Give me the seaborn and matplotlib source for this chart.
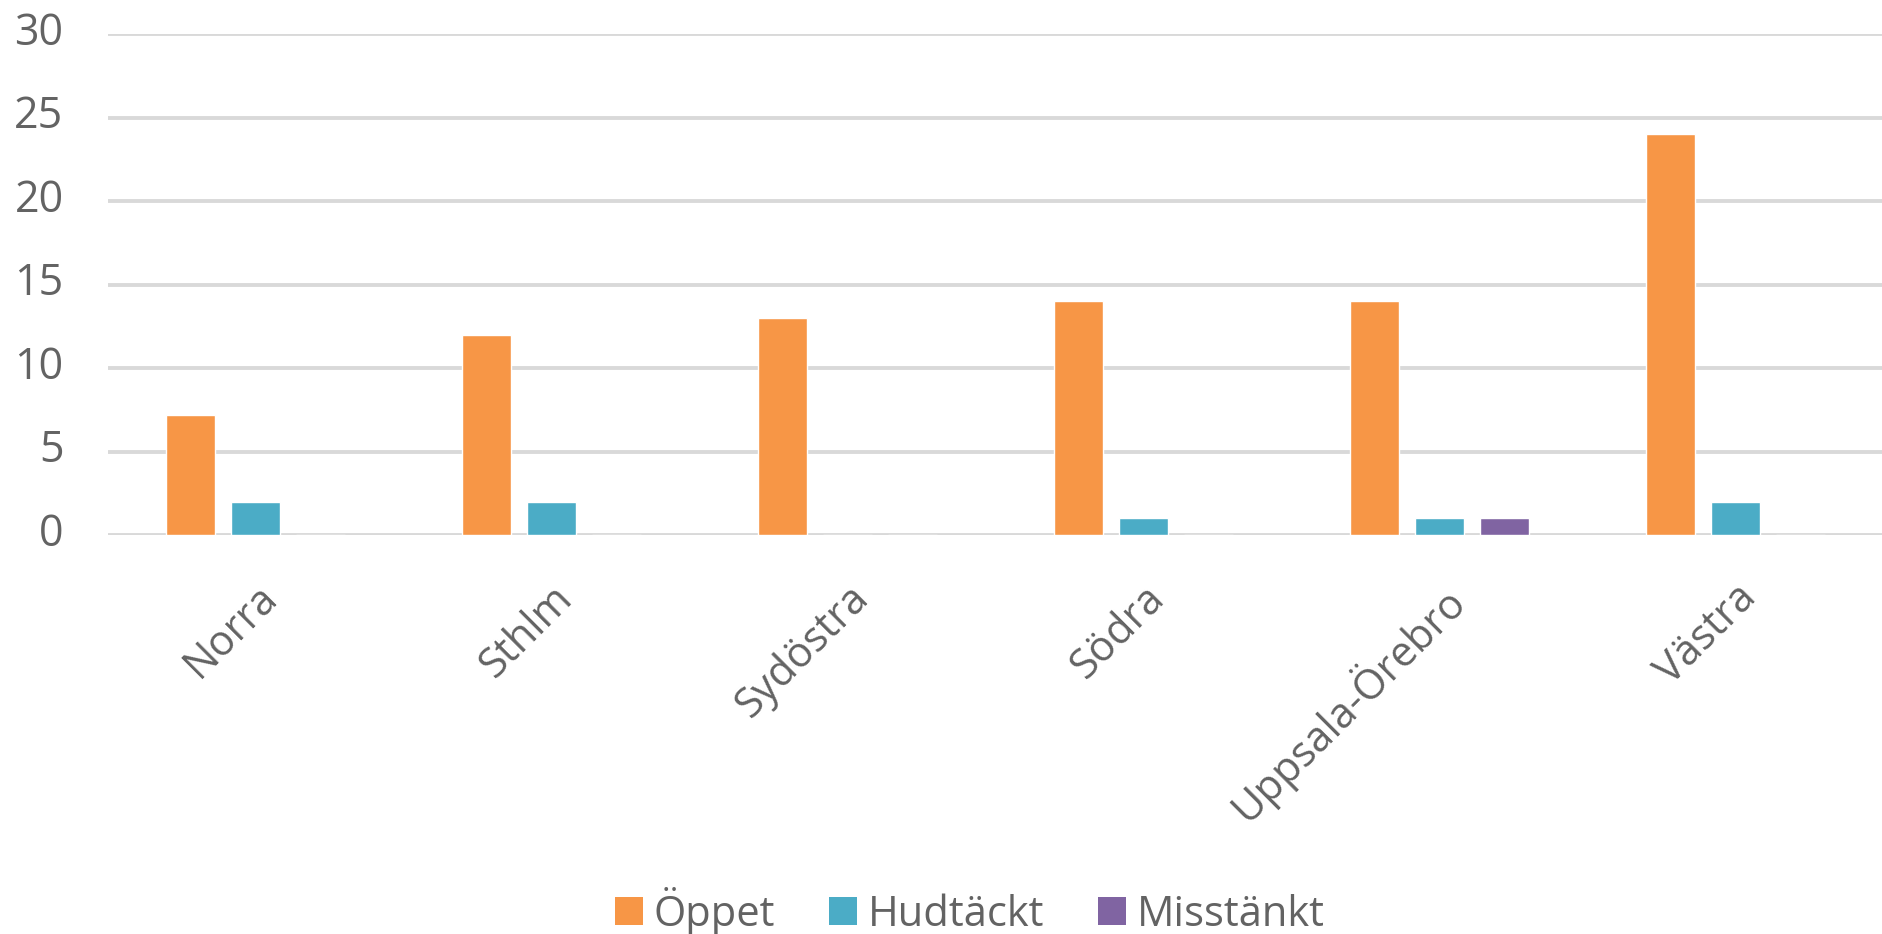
import matplotlib
matplotlib.use("Agg")
import matplotlib.pyplot as plt
import matplotlib.transforms as mtransforms
from matplotlib.patches import Patch
import seaborn as sns
import pandas as pd

categories = ["Norra", "Sthlm", "Sydöstra", "Södra", "Uppsala-Örebro", "Västra"]
series_names = ["Öppet", "Hudtäckt", "Misstänkt"]
oppet = [7.2, 12, 13, 14, 14, 24]
hudtackt = [2, 2, 0, 1, 1, 2]
misstankt = [0, 0, 0, 0, 1, 0]
y_ticks = [0, 5, 10, 15, 20, 25, 30]
colors = ["#F79646", "#4BACC6", "#8064A2"]

rows = []
for name, vals in zip(series_names, [oppet, hudtackt, misstankt]):
    for c, v in zip(categories, vals):
        rows.append({"Region": c, "Serie": name, "Antal": v})
df = pd.DataFrame(rows)

sns.set_theme(style="white")
plt.rcParams["font.family"] = ["Open Sans", "DejaVu Sans"]
txt = "#636363"
fs = 30

fig = plt.figure(figsize=(18.83, 9.34), dpi=100)
ax = fig.add_axes([108 / 1883, 1 - 535 / 934, 1 - 108 / 1883, (535 - 34) / 934])

sns.barplot(data=df, x="Region", y="Antal", hue="Serie", order=categories,
            hue_order=series_names, palette=colors, width=0.659, gap=0.246,
            ax=ax, legend=False, saturation=1)

ax.set_ylim(0, 30)
ax.set_xlim(-0.5, len(categories) - 0.5)
ax.set_yticks(y_ticks)
ax.yaxis.grid(True, color="#D9D9D9", linewidth=2.8)
ax.set_axisbelow(True)
for s in ax.spines.values():
    s.set_visible(False)
ax.set_xlabel("")
ax.set_ylabel("")
ax.tick_params(axis="y", length=0, pad=32, labelsize=31, labelcolor=txt)
ax.tick_params(axis="x", length=0, pad=30, labelsize=fs, labelcolor=txt)
for lab in ax.get_xticklabels():
    lab.set_rotation(45)
    lab.set_ha("right")
    lab.set_rotation_mode("anchor")
yoff = mtransforms.ScaledTranslation(0, 6 / 100, fig.dpi_scale_trans)
for lab in ax.get_yticklabels():
    lab.set_transform(lab.get_transform() + yoff)

handles = [Patch(facecolor=c, edgecolor="none") for c in colors]
fig.legend(handles, series_names, loc="center", bbox_to_anchor=(970 / 1883, 1 - 911 / 934),
           ncol=3, frameon=False, fontsize=fs, labelcolor=txt,
           handlelength=0.67, handleheight=0.67, handletextpad=0.25, columnspacing=1.3)

fig.savefig("out.png", dpi=100, facecolor="white")
